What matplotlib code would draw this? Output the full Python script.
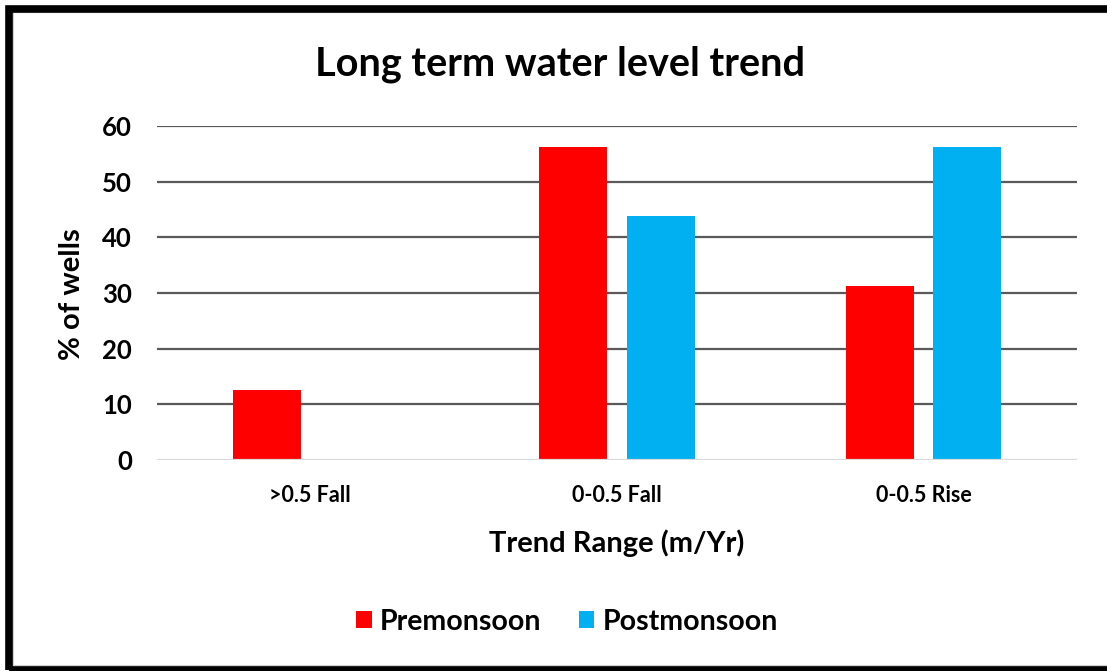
import numpy as np
import matplotlib
matplotlib.use('Agg')
import matplotlib.pyplot as plt
from matplotlib.patches import Rectangle

# Data
categories = ['>0.5 Fall', '0-0.5 Fall', '0-0.5 Rise']
premonsoon = [12.5, 56.25, 31.25]
postmonsoon = [0, 43.75, 56.25]
series_names = ['Premonsoon', 'Postmonsoon']
colors = ['#FF0000', '#00B0F0']

plt.rcParams['font.family'] = ['Lato', 'DejaVu Sans']
plt.rcParams['font.weight'] = 'bold'

W, H = 1107, 671
fig = plt.figure(figsize=(W / 100, H / 100), dpi=100)
ax = fig.add_axes([157 / W, 1 - 460 / H, 920 / W, 334 / H])

x = np.arange(len(categories))
bw = 0.222
off = 0.142
ax.bar(x - off, premonsoon, width=bw, color=colors[0], label=series_names[0], zorder=3)
ax.bar(x + off, postmonsoon, width=bw, color=colors[1], label=series_names[1], zorder=3)

ax.set_xlim(-0.5, 2.5)
ax.set_ylim(0, 60)
ax.set_yticks(range(0, 61, 10))
ax.set_xticks(x)
ax.set_xticklabels(categories, fontsize=15.5, fontweight='bold')
ax.tick_params(axis='y', labelsize=18.5, length=0, pad=18)
ax.tick_params(axis='x', length=0, pad=18)
for lab in ax.get_yticklabels():
    lab.set_fontweight('bold')

for v in range(10, 61, 10):
    ax.axhline(v, color='#595959', lw=1.6, zorder=1)
ax.axhline(0, color='#D9D9D9', lw=1.6, zorder=4)
for s in ax.spines.values():
    s.set_visible(False)

fig.text(560 / W, 1 - 64 / H, 'Long term water level trend', ha='center', va='center',
         fontsize=28.5, fontweight='bold')
fig.text(617 / W, 1 - 543 / H, 'Trend Range (m/Yr)', ha='center', va='center',
         fontsize=21, fontweight='bold')
fig.text(72 / W, 1 - 294 / H, '% of wells', ha='center', va='center', rotation=90,
         fontsize=21, fontweight='bold')

fig.legend(loc='center', bbox_to_anchor=(567 / W, 1 - 622 / H), ncol=2, frameon=False,
           fontsize=20.5, handlelength=0.54, handleheight=0.54, columnspacing=1.3,
           handletextpad=0.3)

# outer frame
fig.patches.append(Rectangle((13 / W, 5 / H), 1.2, 1 - 17 / H, transform=fig.transFigure,
                             fill=False, edgecolor='#D0D0D0', lw=1.5))
fig.patches.append(Rectangle((8.5 / W, 1 / H), 1.2, 1 - 9.5 / H, transform=fig.transFigure,
                             fill=False, edgecolor='black', lw=5.5))

fig.savefig('out.png', dpi=100)
